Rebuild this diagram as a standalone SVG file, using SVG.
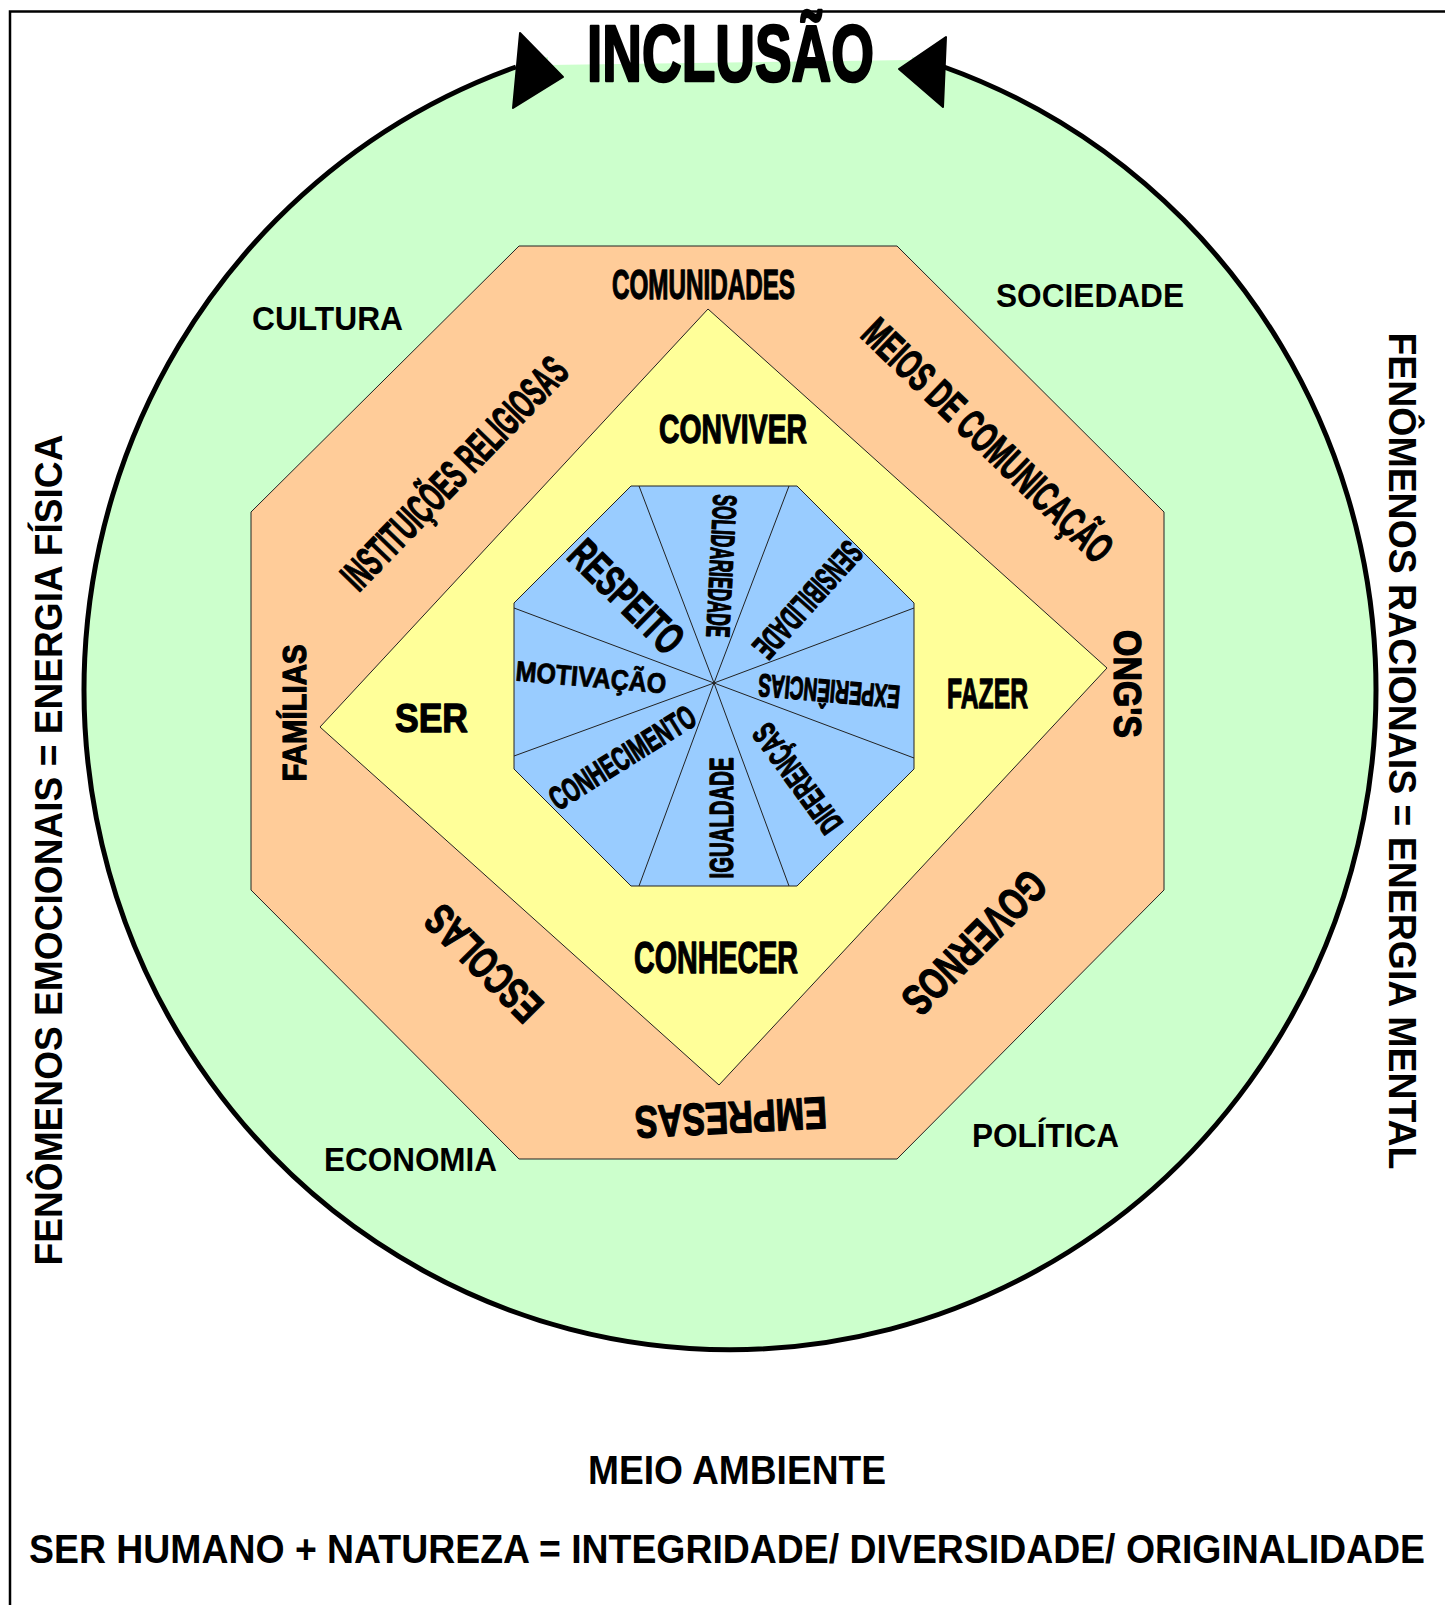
<svg xmlns="http://www.w3.org/2000/svg" width="1445" height="1605" viewBox="0 0 1445 1605">
<defs>
<style>
text{font-family:"Liberation Sans",Arial,sans-serif;font-weight:bold;fill:#000;}
.c{text-anchor:middle;}
.h{stroke:#000;stroke-width:1.3;stroke-linejoin:round;}
.m{stroke:#000;stroke-width:0.8;stroke-linejoin:round;}
.hh{stroke:#000;stroke-width:2.6;stroke-linejoin:round;}
.shape{stroke:#222;stroke-width:1;}
.spoke{stroke:#222;stroke-width:1;fill:none;}
</style>
</defs>
<rect width="1445" height="1605" fill="#fff"/>
<g id="outer-circle">
<ellipse cx="730" cy="690" rx="646" ry="660" fill="#CCFFCC"/>
<polygon points="548,13 912,13 912,60 548,65" fill="#fff"/>
</g>
<g id="connectors">
<path d="M516,67 A646,660 0 1 0 944,67" fill="none" stroke="#000" stroke-width="5"/>
<polygon points="520,33 513,108 563,77" fill="#000" stroke="#000" stroke-width="2" stroke-linejoin="round"/>
<polygon points="899,69 946,37 943,107" fill="#000" stroke="#000" stroke-width="2" stroke-linejoin="round"/>
</g>
<g id="orange-octagon">
<polygon class="shape" points="519,246 897,246 1164,512 1164,890 897,1159 519,1159 251,890 251,512" fill="#FFCC99"/>
</g>
<g id="yellow-diamond">
<polygon class="shape" points="708,309 1107,668 719,1085 320,727" fill="#FFFF99"/>
</g>
<g id="blue-octagon">
<polygon class="shape" points="631,486 797,486 914,603 914,769 797,886 631,886 514,769 514,603" fill="#99CCFF"/>
<g id="spokes">
<path class="spoke" d="M714,683 L639,486 M714,683 L789,486 M714,683 L914,608 M714,683 L914,758 M714,683 L789,886 M714,683 L639,886 M714,683 L514,756 M714,683 L514,608"/>
</g>
</g>
<g id="title">
<text class="hh" x="587" y="81" font-size="79" textLength="287" lengthAdjust="spacingAndGlyphs">INCLUSÃO</text>
</g>
<g id="outer-labels">
<text x="252" y="330" font-size="34" textLength="151" lengthAdjust="spacingAndGlyphs">CULTURA</text>
<text x="996" y="307" font-size="34" textLength="188" lengthAdjust="spacingAndGlyphs">SOCIEDADE</text>
<text x="324" y="1171" font-size="34" textLength="173" lengthAdjust="spacingAndGlyphs">ECONOMIA</text>
<text x="972" y="1147" font-size="34" textLength="147" lengthAdjust="spacingAndGlyphs">POLÍTICA</text>
</g>
<g id="band-labels">
<text class="h" x="612" y="299" font-size="42" textLength="183" lengthAdjust="spacingAndGlyphs">COMUNIDADES</text>
<g transform="translate(454,473) rotate(-46)"><text class="c h" x="0" y="15" font-size="42" textLength="305" lengthAdjust="spacingAndGlyphs">INSTITUIÇÕES RELIGIOSAS</text></g>
<g transform="translate(988,440) rotate(44)"><text class="c h" x="0" y="15" font-size="42" textLength="330" lengthAdjust="spacingAndGlyphs">MEIOS DE COMUNICAÇÃO</text></g>
<g transform="translate(294,713) rotate(-90)"><text class="c h" x="0" y="12" font-size="34" textLength="137" lengthAdjust="spacingAndGlyphs">FAMÍLIAS</text></g>
<g transform="translate(1128,684) rotate(90)"><text class="c h" x="0" y="14" font-size="38" textLength="108" lengthAdjust="spacingAndGlyphs">ONG'S</text></g>
<g transform="translate(483,964) rotate(225)"><text class="c h" x="0" y="16" font-size="44" textLength="145" lengthAdjust="spacingAndGlyphs">ESCOLAS</text></g>
<g transform="translate(975,943) rotate(135)"><text class="c h" x="0" y="16" font-size="44" textLength="183" lengthAdjust="spacingAndGlyphs">GOVERNOS</text></g>
<g transform="translate(731,1118) rotate(177)"><text class="c h" x="0" y="16" font-size="45" textLength="192" lengthAdjust="spacingAndGlyphs">EMPRESAS</text></g>
</g>
<g id="diamond-labels">
<text class="h" x="659" y="443" font-size="40" textLength="148" lengthAdjust="spacingAndGlyphs">CONVIVER</text>
<text class="h" x="395" y="732" font-size="41" textLength="73" lengthAdjust="spacingAndGlyphs">SER</text>
<text class="h" x="947" y="708" font-size="42" textLength="81" lengthAdjust="spacingAndGlyphs">FAZER</text>
<text class="h" x="634" y="973" font-size="44" textLength="164" lengthAdjust="spacingAndGlyphs">CONHECER</text>
</g>
<g id="center-labels">
<g transform="translate(627,596) rotate(44.5)"><text class="c h" x="0" y="16" font-size="44" textLength="142" lengthAdjust="spacingAndGlyphs">RESPEITO</text></g>
<g transform="translate(722,566) rotate(93)"><text class="c h" x="0" y="12" font-size="33" textLength="143" lengthAdjust="spacingAndGlyphs">SOLIDARIEDADE</text></g>
<g transform="translate(808,600) rotate(132)"><text class="c h" x="0" y="12" font-size="34" textLength="144" lengthAdjust="spacingAndGlyphs">SENSIBILIDADE</text></g>
<g transform="translate(829,691) rotate(185)"><text class="c h" x="0" y="11" font-size="32" textLength="142" lengthAdjust="spacingAndGlyphs">EXPERIÊNCIAS</text></g>
<g transform="translate(797,779) rotate(234)"><text class="c h" x="0" y="12" font-size="33" textLength="127" lengthAdjust="spacingAndGlyphs">DIFERENÇAS</text></g>
<g transform="translate(721,818) rotate(-90)"><text class="c h" x="0" y="12" font-size="34" textLength="121" lengthAdjust="spacingAndGlyphs">IGUALDADE</text></g>
<g transform="translate(622,757) rotate(-32)"><text class="c h" x="0" y="12" font-size="33" textLength="166" lengthAdjust="spacingAndGlyphs">CONHECIMENTO</text></g>
<g transform="translate(591,677) rotate(5)"><text class="c m" x="0" y="10" font-size="28" textLength="151" lengthAdjust="spacingAndGlyphs">MOTIVAÇÃO</text></g>
</g>
<g id="side-labels">
<g transform="translate(48,850) rotate(-90)"><text class="c" x="0" y="14" font-size="38" textLength="831" lengthAdjust="spacingAndGlyphs">FENÔMENOS EMOCIONAIS = ENERGIA FÍSICA</text></g>
<g transform="translate(1403,751) rotate(90)"><text class="c" x="0" y="14" font-size="38" textLength="837" lengthAdjust="spacingAndGlyphs">FENÔMENOS RACIONAIS = ENERGIA MENTAL</text></g>
</g>
<g id="bottom-labels">
<text x="588" y="1484" font-size="41" textLength="298" lengthAdjust="spacingAndGlyphs">MEIO AMBIENTE</text>
<text x="29" y="1563" font-size="40" textLength="1396" lengthAdjust="spacingAndGlyphs">SER HUMANO + NATUREZA = INTEGRIDADE/ DIVERSIDADE/ ORIGINALIDADE</text>
</g>
<g id="frame">
<path d="M10,1605 V11.5 H1445" fill="none" stroke="#000" stroke-width="2.5"/>
</g>
</svg>
